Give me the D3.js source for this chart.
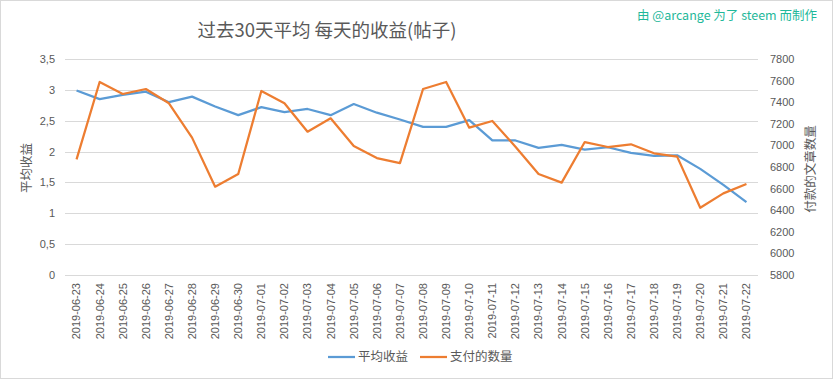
<!DOCTYPE html>
<html>
<head>
<meta charset="utf-8">
<script src="https://cdn.jsdelivr.net/npm/d3@7"></script>
<style>
  body { margin: 0; background: #fff; }
  svg { font-family: "Noto Sans CJK SC", "Noto Sans", sans-serif; }
</style>
</head>
<body>
<svg id="chart" width="833" height="379"></svg>
<script>
// data
var dates = ['2019-06-23','2019-06-24','2019-06-25','2019-06-26','2019-06-27','2019-06-28','2019-06-29','2019-06-30',
  '2019-07-01','2019-07-02','2019-07-03','2019-07-04','2019-07-05','2019-07-06','2019-07-07','2019-07-08','2019-07-09',
  '2019-07-10','2019-07-11','2019-07-12','2019-07-13','2019-07-14','2019-07-15','2019-07-16','2019-07-17','2019-07-18',
  '2019-07-19','2019-07-20','2019-07-21','2019-07-22'];
var avgReward = [2.99, 2.85, 2.92, 2.97, 2.80, 2.89, 2.73, 2.59, 2.72, 2.64, 2.69, 2.59, 2.77, 2.63, 2.52,
  2.40, 2.40, 2.51, 2.18, 2.18, 2.06, 2.11, 2.03, 2.07, 1.98, 1.93, 1.94, 1.72, 1.46, 1.18];
var paidPosts = [6871, 7587, 7476, 7522, 7390, 7072, 6618, 6735, 7504, 7390, 7127, 7251, 6994, 6883, 6836,
  7522, 7587, 7164, 7226, 6988, 6735, 6655, 7031, 6985, 7010, 6927, 6896, 6423, 6556, 6643];
var leftTicks = [0, 0.5, 1, 1.5, 2, 2.5, 3, 3.5];
var rightTicks = [5800, 6000, 6200, 6400, 6600, 6800, 7000, 7200, 7400, 7600, 7800];
var seriesNames = ['平均收益', '支付的数量'];
var colors = ['#5B9BD5', '#ED7D31'];

var svg = d3.select('#chart');
var plotL = 65, plotR = 758, plotT = 59, plotB = 275;

svg.append('rect')
  .attr('x', 0.5).attr('y', 0.5).attr('width', 832).attr('height', 378)
  .attr('fill', '#fff').attr('stroke', '#d9d9d9');

var x = d3.scaleBand().domain(dates).range([plotL, plotR]);
var yL = d3.scaleLinear().domain([0, 3.5]).range([plotB, plotT]);
var yR = d3.scaleLinear().domain([5800, 7800]).range([plotB, plotT]);

// gridlines
svg.append('g')
  .selectAll('line')
  .data(leftTicks)
  .enter().append('line')
  .attr('x1', plotL).attr('x2', plotR)
  .attr('y1', d => Math.round(yL(d)) + 0.5)
  .attr('y2', d => Math.round(yL(d)) + 0.5)
  .attr('stroke', '#d9d9d9').attr('stroke-width', 1);

// left axis
var gL = svg.append('g')
  .attr('transform', 'translate(' + (plotL - 10) + ',0)')
  .call(d3.axisLeft(yL).tickValues(leftTicks).tickSize(0).tickPadding(0)
    .tickFormat(d => String(d).replace('.', ',')));
gL.select('.domain').remove();
gL.selectAll('text').attr('fill', '#595959').style('font-size', '11px');

// right axis
var gR = svg.append('g')
  .attr('transform', 'translate(' + (plotR + 12) + ',0)')
  .call(d3.axisRight(yR).tickValues(rightTicks).tickSize(0).tickPadding(0)
    .tickFormat(d3.format('d')));
gR.select('.domain').remove();
gR.selectAll('text').attr('fill', '#595959').style('font-size', '11px');

// x axis
var gX = svg.append('g')
  .attr('transform', 'translate(0,' + (plotB + 8) + ')')
  .call(d3.axisBottom(x).tickSize(0).tickPadding(0));
gX.select('.domain').remove();
gX.selectAll('text')
  .attr('fill', '#595959')
  .style('font-size', '11px')
  .attr('transform', 'rotate(-90)')
  .attr('text-anchor', 'end')
  .attr('dy', '0.35em')
  .attr('x', 0).attr('y', 0);

// lines
var cx = d => x(d) + x.bandwidth() / 2;
var lineL = d3.line().x((d, i) => cx(dates[i])).y(d => yL(d));
var lineR = d3.line().x((d, i) => cx(dates[i])).y(d => yR(d));

svg.append('path').datum(avgReward)
  .attr('d', lineL).attr('fill', 'none')
  .attr('stroke', colors[0]).attr('stroke-width', 2.25).attr('stroke-linejoin', 'round');
svg.append('path').datum(paidPosts)
  .attr('d', lineR).attr('fill', 'none')
  .attr('stroke', colors[1]).attr('stroke-width', 2.25).attr('stroke-linejoin', 'round');

// titles
svg.append('text')
  .attr('x', 327).attr('y', 37).attr('text-anchor', 'middle')
  .attr('fill', '#595959').style('font-size', '18.5px')
  .text('过去30天平均 每天的收益(帖子)');

svg.append('text')
  .attr('x', 817).attr('y', 20).attr('text-anchor', 'end')
  .attr('fill', '#1fb89a').style('font-size', '12.5px')
  .text('由 @arcange 为了 steem 而制作');

svg.append('text')
  .attr('transform', 'translate(31,168) rotate(-90)')
  .attr('text-anchor', 'middle')
  .attr('fill', '#595959').style('font-size', '12.5px')
  .text('平均收益');

svg.append('text')
  .attr('transform', 'translate(815,169) rotate(-90)')
  .attr('text-anchor', 'middle')
  .attr('fill', '#595959').style('font-size', '12.5px')
  .text('付款的文章数量');

// legend
var legend = svg.append('g').attr('transform', 'translate(328,357)');
var items = legend.selectAll('g').data(seriesNames).enter().append('g')
  .attr('transform', (d, i) => 'translate(' + (i * 92) + ',0)');
items.append('line')
  .attr('x1', 0).attr('x2', 27).attr('y1', 0).attr('y2', 0)
  .attr('stroke', (d, i) => colors[i]).attr('stroke-width', 2.25);
items.append('text')
  .attr('x', 30).attr('y', 0).attr('dy', '0.35em')
  .attr('fill', '#595959').style('font-size', '12.5px')
  .text(d => d);
</script>
</body>
</html>
